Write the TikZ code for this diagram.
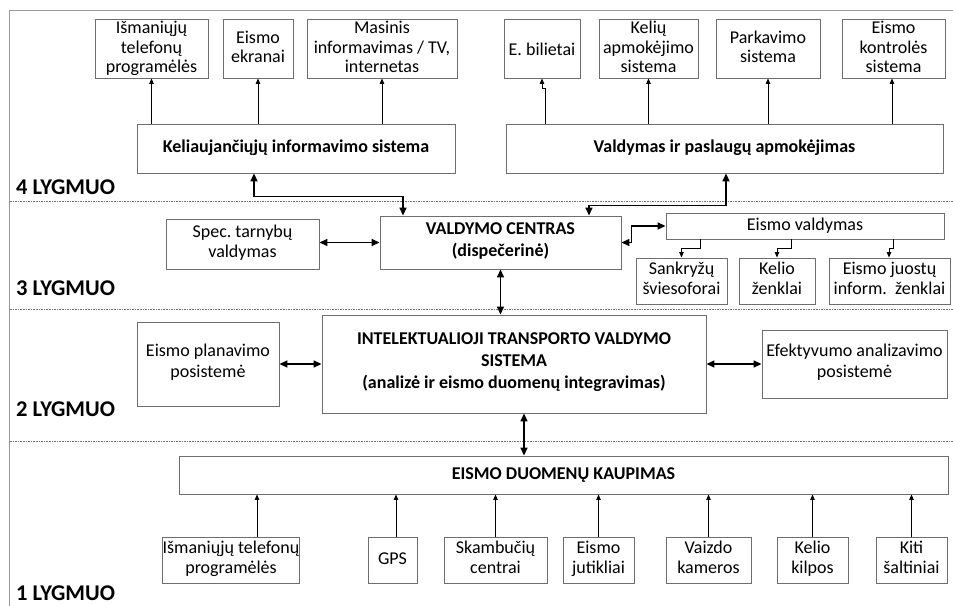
\documentclass[tikz,border=0pt]{standalone}
\usepackage{fontspec}
\setmainfont{Carlito}
\usetikzlibrary{arrows.meta}
\definecolor{boxgray}{HTML}{6E6E6E}
\definecolor{framegray}{HTML}{9A9A9A}
\definecolor{dashgray}{HTML}{707070}
\frenchspacing
\begin{document}
\begin{tikzpicture}[x=1pt,y=-1pt,
  basebox/.style={draw=boxgray,line width=0.9pt,inner sep=0pt,align=center,fill=white},
  bx/.style={basebox,font=\fontsize{18}{20}\selectfont,
    execute at begin node=\strut, execute at end node=\strut},
  topbx/.style={basebox,font=\fontsize{18}{19.3}\selectfont,minimum height=59,
    execute at begin node=\rule{0pt}{17.5pt}, execute at end node=\rule[-3pt]{0pt}{3pt}},
  bxb/.style={bx,font=\bfseries\fontsize{18}{22}\selectfont},
  lvl/.style={anchor=west,inner sep=0pt,font=\bfseries\fontsize{22.5}{24}\selectfont},
  thin/.style={line width=0.8pt,-{Triangle[length=5.5pt,width=4.5pt]}},
  thk/.style={line width=1.5pt,{Triangle[length=8pt,width=7pt]}-{Triangle[length=8pt,width=7pt]}},
  sep/.style={dashgray,line width=0.6pt,dash pattern=on 1.6pt off 1pt}]
\useasboundingbox (0,0) rectangle (953,605);
% frame
\draw[framegray,line width=1.4pt] (9.5,610) -- (9.5,10.5) -- (960,10.5);
% level separators
\draw[sep] (10,201.5) -- (953,201.5);
\draw[sep] (10,309) -- (953,309);
\draw[sep] (10,441) -- (953,441);
% level labels
\node[lvl] (l4) at (16,187) {4 LYGMUO};
\node[lvl] (l3) at (16,288) {3 LYGMUO};
\node[lvl] (l2) at (16,409) {2 LYGMUO};
\node[lvl] (l1) at (16,593) {1 LYGMUO};
% level 4 top boxes
\node[topbx,minimum width=113] (t1) at (151.5,48.5) {Išmaniųjų\\telefonų\\programėlės};
\node[topbx,minimum width=70] (t2) at (258,48.5) {Eismo\\ekranai};
\node[topbx,minimum width=150] (t3) at (382,48.5) {Masinis\\informavimas / TV,\\internetas};
\node[topbx,minimum width=76] (t4) at (542,48.5) {E. bilietai};
\node[topbx,minimum width=99] (t5) at (648.5,48.5) {Kelių\\apmokėjimo\\sistema};
\node[topbx,minimum width=104] (t6) at (768,48.5) {Parkavimo\\sistema};
\node[topbx,minimum width=103] (t7) at (893.5,48.5) {Eismo\\kontrolės\\sistema};
\node[bxb,minimum width=318,minimum height=49] (kis) at (296,148.5) {Keliaujančiųjų informavimo sistema};
\node[bxb,minimum width=437,minimum height=49] (vpa) at (724.5,148.5) {Valdymas ir paslaugų apmokėjimas};
% level 3
\node[bxb,minimum width=241,minimum height=53] (vc) at (500.5,242.5) {VALDYMO CENTRAS\\(dispečerinė)};
\node[bx,minimum width=153,minimum height=50] (spec) at (242.5,244) {Spec. tarnybų\\valdymas};
\node[bx,minimum width=278,minimum height=26] (ev) at (805,226) {Eismo valdymas};
\node[bx,minimum width=91,minimum height=46] (s1) at (681.5,281) {Sankryžų\\šviesoforai};
\node[bx,minimum width=76,minimum height=46] (s2) at (777,281) {Kelio\\ženklai};
\node[bx,minimum width=121,minimum height=46] (s3) at (889.5,281) {Eismo juostų\\inform.\ \ ženklai};
% level 2
\node[bxb,minimum width=384,minimum height=98] (its) at (514,364) {INTELEKTUALIOJI TRANSPORTO VALDYMO\\SISTEMA\\(analizė ir eismo duomenų integravimas)};
\node[bx,minimum width=142,minimum height=84,font=\fontsize{18}{21}\selectfont] (epl) at (208,364) {Eismo planavimo\\posistemė};
\node[bx,minimum width=185,minimum height=68,font=\fontsize{18}{21}\selectfont] (efa) at (854.5,364) {Efektyvumo analizavimo\\posistemė};
% level 1
\node[bxb,minimum width=769,minimum height=38] (edk) at (563.5,475) {EISMO DUOMENŲ KAUPIMAS};
\node[bx,minimum width=104,minimum height=46] (b1) at (231,560) {Išmaniųjų telefonų\\programėlės};
\node[bx,minimum width=49,minimum height=46] (b2) at (392.5,560) {GPS};
\node[bx,minimum width=103,minimum height=46] (b3) at (495.5,560) {Skambučių\\centrai};
\node[bx,minimum width=71,minimum height=46] (b4) at (598.5,560) {Eismo\\jutikliai};
\node[bx,minimum width=85,minimum height=46] (b5) at (708.5,560) {Vaizdo\\kameros};
\node[bx,minimum width=71,minimum height=46] (b6) at (812.5,560) {Kelio\\kilpos};
\node[bx,minimum width=71,minimum height=46] (b7) at (911.5,560) {Kiti\\šaltiniai};
% level 4 connectors
\draw[thin] (kis.north -| t1.south) -- (t1.south);
\draw[thin] (kis.north -| t2.south) -- (t2.south);
\draw[thin] (kis.north -| t3.south) -- (t3.south);
\draw[thin] ([xshift=-179.5]vpa.north) -- ++(0,-35) -| (t4.south);
\draw[thin] (vpa.north -| t5.south) -- (t5.south);
\draw[thin] (vpa.north -| t6.south) -- (t6.south);
\draw[thin] ([xshift=-1.5]vpa.north -| t7.south) -- ([xshift=-1.5]t7.south);
% kis/vpa <-> valdymo centras
\draw[thk] ([xshift=-42]kis.south) -- ++(0,23) -| ([xshift=-97.5]vc.north);
\draw[thk] ([xshift=1.5]vpa.south) -- ++(0,32) -| ([xshift=88.5]vc.north);
% level 3 connectors
\draw[thk] (spec.east |- vc.west) -- (vc.west);
\draw[thk] (vc.east) -- ++(10,0) |- (ev.west);
\draw[thin] ([xshift=-105]ev.south) -- ++(0,9) -| (s1.north);
\draw[thin] ([xshift=-14]ev.south) -- ++(0,9) -| (s2.north);
\draw[thin] ([xshift=88]ev.south) -- ++(0,9) -| ([xshift=-0.5]s3.north);
\draw[thk] (vc.south) -- (vc.south |- its.north);
% level 2 connectors
\draw[thk] (epl.east) -- (its.west);
\draw[thk] (its.east) -- (efa.west);
\draw[thk] ([xshift=10]its.south) -- ([xshift=10]its.south |- edk.north);
% level 1 connectors
\draw[thin] ([xshift=26]b1.north) -- ([xshift=26]b1.north |- edk.south);
\draw[thin] ([xshift=3.5]b2.north) -- ([xshift=3.5]b2.north |- edk.south);
\draw[thin] (b3.north) -- (b3.north |- edk.south);
\draw[thin] (b4.north) -- (b4.north |- edk.south);
\draw[thin] (b5.north) -- (b5.north |- edk.south);
\draw[thin] (b6.north) -- (b6.north |- edk.south);
\draw[thin] (b7.north) -- (b7.north |- edk.south);
\end{tikzpicture}
\end{document}
